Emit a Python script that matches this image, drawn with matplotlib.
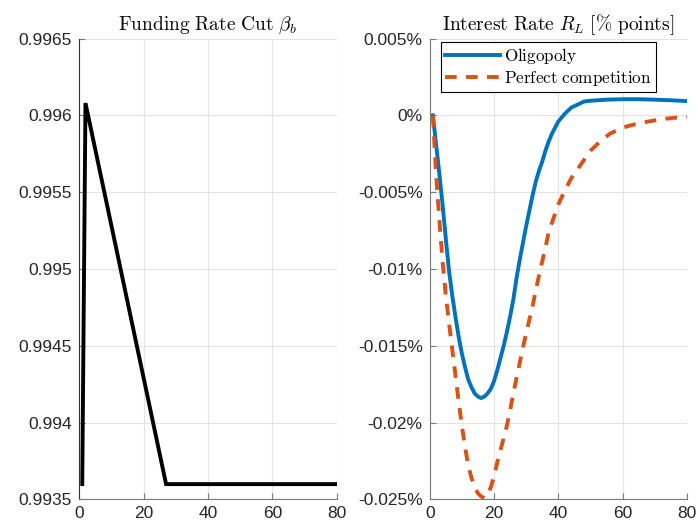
import numpy as np
import matplotlib
matplotlib.use("Agg")
import matplotlib.pyplot as plt

# Funding rate cut (kink points of the piecewise path)
beta_t = [1, 2, 27, 80]
beta_b = [0.9936, 0.99608, 0.9936, 0.9936]

# Interest rate R_L, % points
olig_t = [1, 2, 3, 4, 5, 6, 7, 8, 9, 10, 11, 12, 13, 14, 15, 16, 17, 18, 19, 20,
          21, 22, 23, 24, 25, 26, 27, 28, 29, 30, 31, 32, 33, 34, 35, 36, 37, 38, 39, 40,
          42, 44, 46, 48, 50, 55, 60, 65, 70, 75, 80]
olig = [0, -0.0019, -0.0038, -0.0058, -0.0080, -0.0101, -0.0117, -0.0131, -0.0144, -0.0155,
        -0.0164, -0.0172, -0.0177, -0.0181, -0.0183, -0.0184, -0.0183, -0.0181, -0.0178, -0.0173,
        -0.0166, -0.0158, -0.0150, -0.0141, -0.0131, -0.0120, -0.0106, -0.0094, -0.0083, -0.0072,
        -0.0062, -0.0052, -0.0043, -0.0036, -0.0030, -0.0023, -0.0017, -0.0012, -0.0008, -0.0004,
        0.0001, 0.0005, 0.0007, 0.0009, 0.00095, 0.00102, 0.00105, 0.00105, 0.00102, 0.00098, 0.00093]

pc_t = [1, 2, 3, 4, 5, 6, 7, 8, 9, 10, 11, 12, 13, 14, 15, 16, 17, 18, 19, 20,
        21, 22, 23, 24, 25, 26, 27, 28, 29, 30, 31, 32, 33, 34, 35, 36, 37, 38, 39, 40,
        42, 44, 46, 48, 50, 53, 56, 60, 64, 68, 72, 76, 80]
pc = [0, -0.0039, -0.0068, -0.0095, -0.0117, -0.0135, -0.0152, -0.0169, -0.0186, -0.0202,
      -0.0216, -0.0228, -0.0236, -0.0242, -0.0246, -0.0248, -0.0249, -0.0247, -0.0242, -0.0235,
      -0.0226, -0.0218, -0.0210, -0.0202, -0.0192, -0.0181, -0.0171, -0.0161, -0.0151, -0.0142,
      -0.0133, -0.0124, -0.0114, -0.0104, -0.0095, -0.0086, -0.0076, -0.0070, -0.0064, -0.0058,
      -0.0049, -0.0041, -0.0035, -0.0029, -0.0023, -0.0017, -0.0012, -0.0008, -0.00057, -0.0004,
      -0.00025, -0.00016, -0.0001]

beta_ticks = [0.9935, 0.994, 0.9945, 0.995, 0.9955, 0.996, 0.9965]
rate_ticks = [-0.025, -0.02, -0.015, -0.01, -0.005, 0, 0.005]
x_ticks = [0, 20, 40, 60, 80]

plt.rcParams["font.family"] = ["Liberation Sans", "DejaVu Sans"]
plt.rcParams["mathtext.fontset"] = "cm"

blue = "#0072BD"
orange = "#D95319"
axcol = "#7a7a7a"
txtcol = "#262626"

fig = plt.figure(figsize=(6.98, 5.29), dpi=100)
ax1 = fig.add_axes([0.1132, 0.0558, 0.3696, 0.8714])
ax2 = fig.add_axes([0.6156, 0.0558, 0.3686, 0.8714])

ax1.plot(beta_t, beta_b, color="black", lw=2.8, solid_joinstyle="miter")
ax1.set_ylim(0.9935, 0.9965)
ax1.set_yticks(beta_ticks)
ax1.set_yticklabels(["%g" % v for v in beta_ticks])
ax1.set_title(r"$\mathrm{Funding\ Rate\ Cut}\ \beta_b$", fontsize=14, pad=6)
ax1.spines["left"].set_color("#333333")

ax2.plot(olig_t, olig, color=blue, lw=2.8, label=r"$\mathrm{Oligopoly}$")
ax2.plot(pc_t, pc, color=orange, lw=2.8, dashes=(3, 2.4),
         label=r"$\mathrm{Perfect\ competition}$")
ax2.set_ylim(-0.025, 0.005)
ax2.set_yticks(rate_ticks)
ax2.set_yticklabels(["%g%%" % v for v in rate_ticks])
ax2.set_title(r"$\mathrm{Interest\ Rate}\ R_L\ [\%\ \mathrm{points}]$", fontsize=14, pad=6)
leg = ax2.legend(loc="upper left", bbox_to_anchor=(0.044, 0.993), fontsize=12.3,
                 handlelength=3.2, frameon=True, fancybox=False, edgecolor="black",
                 framealpha=1, borderaxespad=0, borderpad=0.25, labelspacing=0.15,
                 handletextpad=0.25)
leg.get_frame().set_linewidth(0.8)

for ax in (ax1, ax2):
    ax.set_xlim(0, 80)
    ax.set_xticks(x_ticks)
    ax.grid(True, color="#e3e3e3", lw=0.8)
    ax.set_axisbelow(True)
    ax.spines["top"].set_visible(False)
    ax.spines["right"].set_visible(False)
    if ax is ax2:
        ax.spines["left"].set_color(axcol)
    ax.spines["bottom"].set_color(axcol)
    ax.tick_params(direction="in", length=4, color=axcol, labelsize=12.5,
                   labelcolor=txtcol, pad=5)

fig.savefig("out.png", dpi=100)
